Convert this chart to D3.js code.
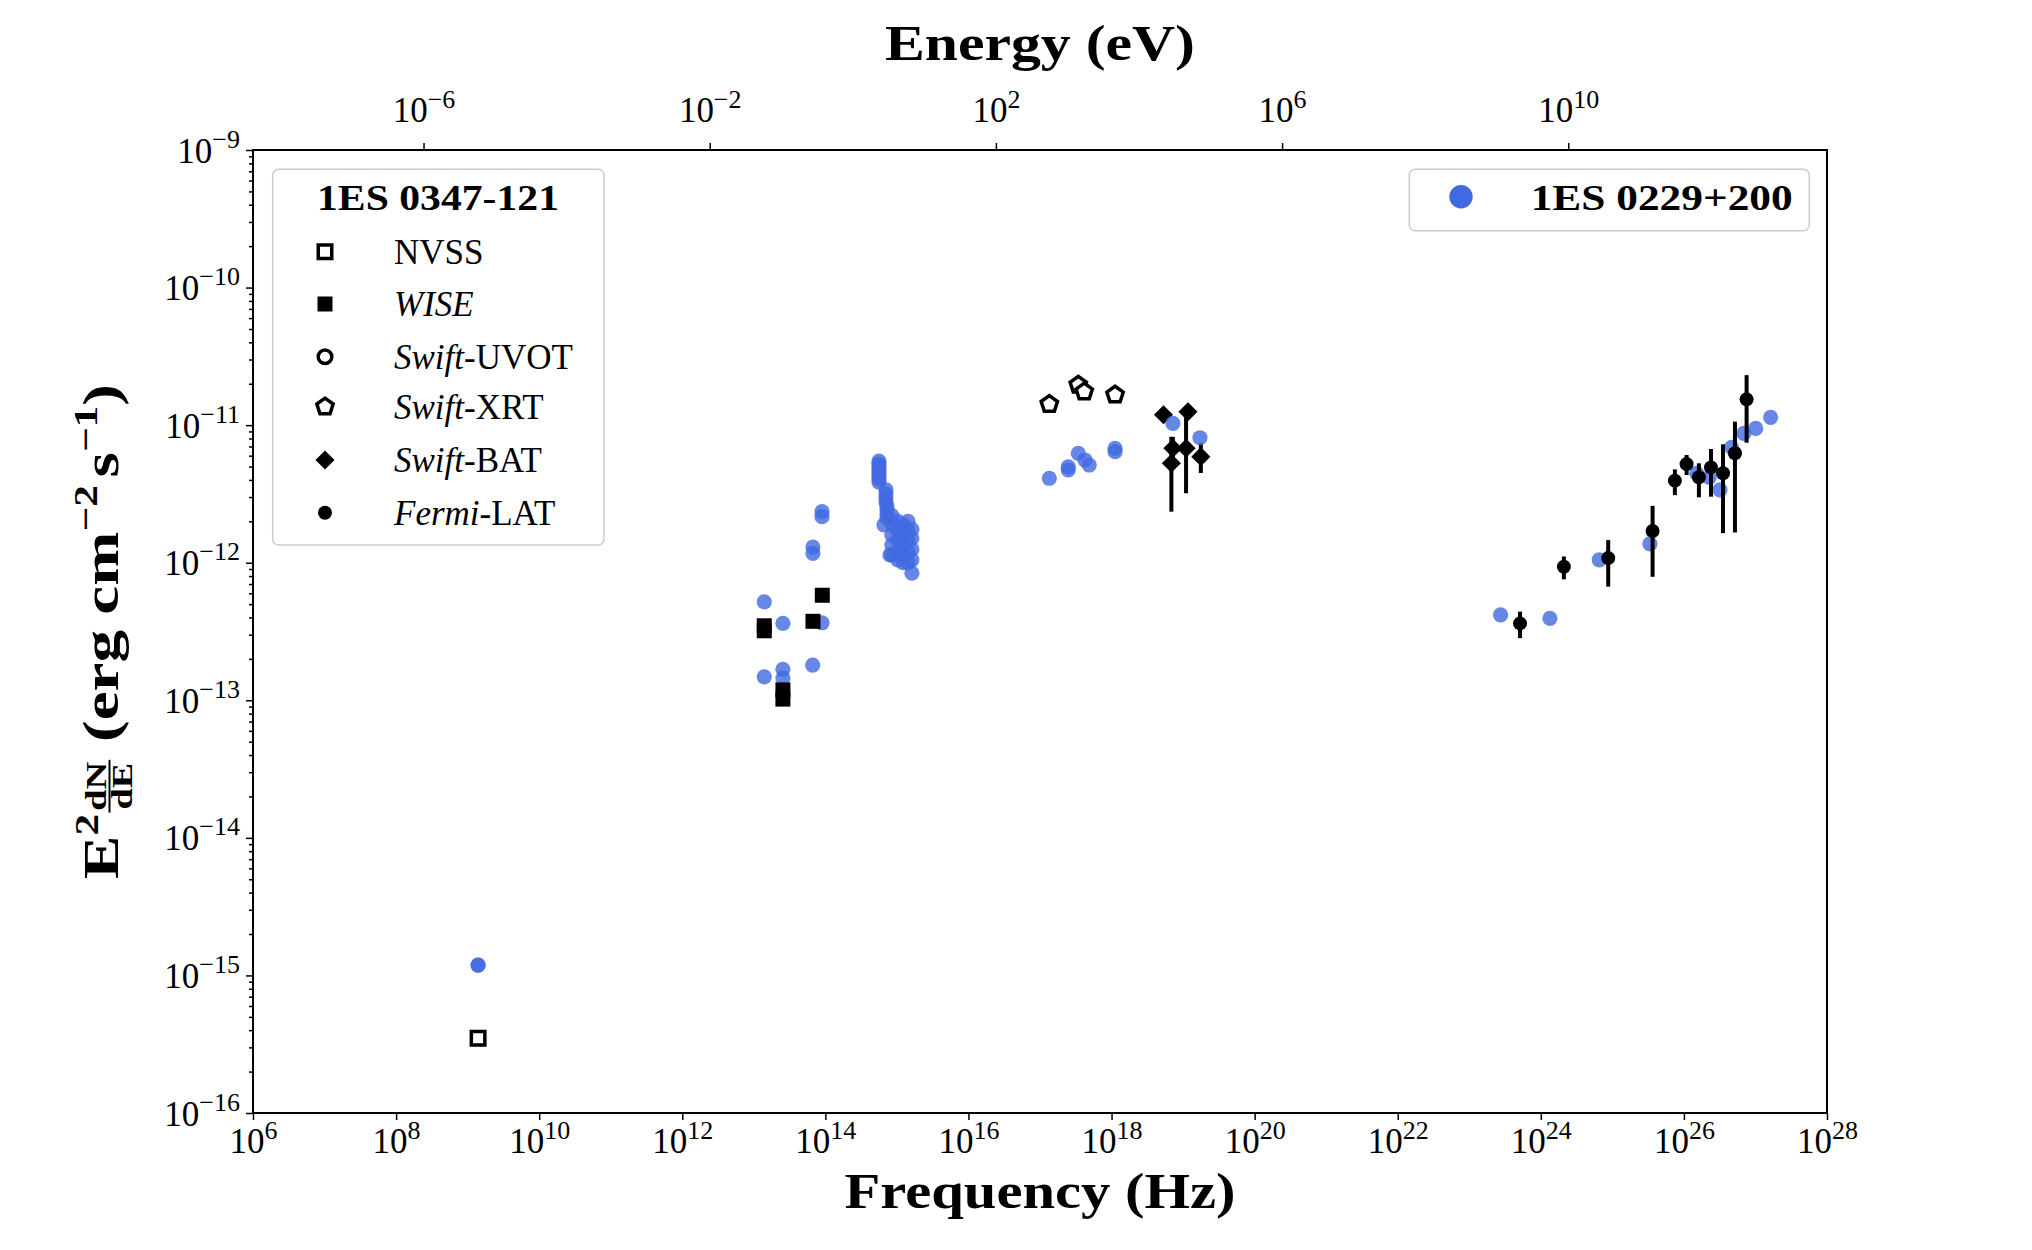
<!DOCTYPE html>
<html>
<head>
<meta charset="utf-8">
<title>SED 1ES 0347-121</title>
<script src="https://cdn.jsdelivr.net/npm/d3@7"></script>
<style>
  body { margin: 0; background: #fff; }
  svg { font-family: "Liberation Serif", "DejaVu Serif", serif; }
</style>
</head>
<body>
<script>

// Planck constant in eV s, for the energy axis on top
const hPlanck = 4.135667696e-15;

// 1ES 0347-121
const nvssNu = [1.4e9];
const nvssF  = [3.5e-16];

const wiseNu = [1.40e13, 1.40e13, 2.55e13, 2.55e13, 6.71e13, 9.06e13];
const wiseF  = [3.48e-13, 3.2e-13, 1.19e-13, 1.02e-13, 3.75e-13, 5.8e-13];

const xrtNu = [1.35e17, 3.43e17, 4.15e17, 1.12e18];
const xrtF  = [1.42e-11, 1.96e-11, 1.75e-11, 1.66e-11];

const batNu = [5.32e18, 1.17e19, 7.2e18, 1.10e19, 6.86e18, 1.77e19];
const batF  = [1.19e-11, 1.25e-11, 6.8e-12, 6.8e-12, 5.28e-12, 5.9e-12];
const batLo = [1.19e-11, 1.25e-11, 5.6e-12, 3.2e-12, 2.35e-12, 4.49e-12];
const batHi = [1.19e-11, 1.25e-11, 8.2e-12, 1.25e-11, 8.24e-12, 7.4e-12];

const latNu = [5.12e23, 2.10e24, 8.75e24, 3.65e25, 7.48e25, 1.09e26, 1.62e26, 2.39e26, 3.52e26, 5.17e26, 7.52e26];
const latF  = [3.62e-13, 9.35e-13, 1.08e-12, 1.70e-12, 3.95e-12, 5.21e-12, 4.18e-12, 4.93e-12, 4.47e-12, 6.24e-12, 1.54e-11];
const latLo = [2.83e-13, 7.57e-13, 6.7e-13, 7.9e-13, 3.1e-12, 4.34e-12, 2.99e-12, 3.02e-12, 1.64e-12, 1.66e-12, 7.45e-12];
const latHi = [4.41e-13, 1.11e-12, 1.46e-12, 2.59e-12, 4.77e-12, 6.07e-12, 5.28e-12, 6.71e-12, 7.26e-12, 1.06e-11, 2.31e-11];

// 1ES 0229+200
const refNu = [
  1.4e9, 1.4e9,
  1.40e13, 1.40e13, 2.55e13, 2.55e13, 2.55e13, 6.65e13, 8.98e13, 6.7e13, 6.7e13, 8.98e13, 8.98e13,
  5.61e14, 5.61e14, 5.61e14, 5.61e14, 5.61e14, 5.61e14, 5.61e14, 5.61e14,
  7.03e14, 7.03e14, 7.03e14, 7.03e14, 7.26e14, 7.26e14, 7.26e14, 7.26e14, 6.59e14, 8.0e14,
  8.5e14, 8.5e14, 8.5e14, 8.5e14, 8.5e14,
  1.03e15, 1.03e15, 1.03e15, 1.03e15, 1.03e15,
  1.22e15, 1.22e15, 1.22e15, 1.22e15, 1.22e15,
  1.43e15, 1.43e15, 1.43e15, 1.43e15, 1.43e15,
  1.62e15, 1.62e15, 1.62e15, 1.62e15, 1.62e15,
  1.35e17, 2.48e17, 2.48e17, 3.43e17, 4.25e17, 4.88e17, 1.12e18, 1.12e18,
  7.2e18, 1.72e19,
  2.74e23, 1.34e24, 6.56e24, 3.35e25, 1.51e26, 2.26e26, 3.19e26, 4.64e26, 6.89e26, 1.01e27, 1.63e27
];
const refF = [
  1.19e-15, 1.19e-15,
  5.2e-13, 1.48e-13, 3.63e-13, 1.68e-13, 1.45e-13, 1.8e-13, 3.66e-13, 1.3e-12, 1.17e-12, 2.35e-12, 2.16e-12,
  5.48e-12, 5.22e-12, 4.97e-12, 4.72e-12, 4.49e-12, 4.27e-12, 4.06e-12, 3.86e-12,
  3.38e-12, 3.16e-12, 2.95e-12, 2.76e-12, 2.58e-12, 2.42e-12, 2.26e-12, 2.11e-12, 1.88e-12, 1.14e-12,
  2.2e-12, 1.9e-12, 1.6e-12, 1.35e-12, 1.14e-12,
  2.0e-12, 1.7e-12, 1.45e-12, 1.2e-12, 1.05e-12,
  1.9e-12, 1.6e-12, 1.35e-12, 1.15e-12, 1.0e-12,
  2.0e-12, 1.7e-12, 1.45e-12, 1.2e-12, 1.0e-12,
  1.75e-12, 1.5e-12, 1.25e-12, 1.05e-12, 8.4e-13,
  4.11e-12, 4.72e-12, 4.97e-12, 6.24e-12, 5.58e-12, 5.13e-12, 6.41e-12, 6.79e-12,
  1.03e-11, 8.1e-12,
  4.17e-13, 3.94e-13, 1.05e-12, 1.37e-12, 4.47e-12, 4.18e-12, 3.38e-12, 6.9e-12, 8.7e-12, 9.47e-12, 1.14e-11
];

// ticks
const freqTicks = d3.range(6, 29, 2).map(e => Math.pow(10, e));
const fluxTicks = d3.range(-16, -8).map(e => Math.pow(10, e));
const energyTicks = [1e-6, 1e-2, 1e2, 1e6, 1e10];

const width = 2032, height = 1250;
const pL = 253, pR = 1827, pT = 150, pB = 1113;
const blue = "#4169E1";

const svg = d3.select("body").append("svg")
  .attr("width", width)
  .attr("height", height);

const x = d3.scaleLog().domain([1e6, 1e28]).range([pL, pR]);
const y = d3.scaleLog().domain([1e-16, 1e-9]).range([pB, pT]);
const xE = d3.scaleLog().domain([1e6 * hPlanck, 1e28 * hPlanck]).range([pL, pR]);

function expLabel(d) {
  const e = Math.round(Math.log10(d));
  return e < 0 ? "\u2212" + (-e) : String(e);
}

function supText(sel, raise) {
  sel.each(function(d) {
    const t = d3.select(this);
    t.text(null);
    t.append("tspan").text("10");
    t.append("tspan").attr("dy", -raise).attr("font-size", 26).text(expLabel(d));
  });
}

// bottom axis
const gx = svg.append("g")
  .attr("transform", `translate(0,${pB})`)
  .call(d3.axisBottom(x).tickValues(freqTicks).tickSize(7).tickSizeOuter(0).tickFormat(() => ""));
gx.selectAll(".tick text").attr("y", 40).attr("dy", null).call(supText, 14);

// top (energy) axis
const gt = svg.append("g")
  .attr("transform", `translate(0,${pT})`)
  .call(d3.axisTop(xE).tickValues(energyTicks).tickSize(7).tickSizeOuter(0).tickFormat(() => ""));
gt.selectAll(".tick text").attr("y", -28).attr("dy", null).call(supText, 14);

// left axis, major + minor
const minor = [];
fluxTicks.slice(0, -1).forEach(v => { for (let k = 2; k < 10; k++) minor.push(v * k); });
svg.append("g")
  .attr("transform", `translate(${pL},0)`)
  .call(d3.axisLeft(y).tickValues(minor).tickSize(4).tickSizeOuter(0).tickFormat(() => ""));
const gy = svg.append("g")
  .attr("transform", `translate(${pL},0)`)
  .call(d3.axisLeft(y).tickValues(fluxTicks).tickSize(7).tickSizeOuter(0).tickFormat(() => ""));
gy.selectAll(".tick text").attr("x", -13).attr("y", 12).attr("dy", null).call(supText, 15);

svg.selectAll(".domain").remove();
svg.selectAll(".tick line").attr("stroke", "#000").attr("stroke-width", 1.5);
svg.selectAll(".tick text")
  .attr("font-family", "Liberation Serif")
  .attr("font-size", 35)
  .attr("fill", "#000");

// frame
svg.append("rect")
  .attr("x", pL).attr("y", pT)
  .attr("width", pR - pL).attr("height", pB - pT)
  .attr("fill", "none").attr("stroke", "#000").attr("stroke-width", 2);

// marker shapes
const pentagon = r => d3.line().curve(d3.curveLinearClosed)(
  d3.range(5).map(i => {
    const a = -Math.PI / 2 + i * 2 * Math.PI / 5;
    return [r * Math.cos(a), r * Math.sin(a)];
  }));
const square = s => d3.symbol(d3.symbolSquare, s * s)();
const plot = svg.append("g");

function markers(nu, f, drawFn) {
  nu.forEach((v, i) => drawFn(plot.append("g").attr("transform", `translate(${x(v)},${y(f[i])})`)));
}
function errbars(nu, lo, hi) {
  plot.append("g").selectAll("line")
    .data(nu)
    .join("line")
    .attr("x1", d => x(d)).attr("x2", d => x(d))
    .attr("y1", (d, i) => y(lo[i])).attr("y2", (d, i) => y(hi[i]))
    .attr("stroke", "#000").attr("stroke-width", 4);
}

const drawNvss = g => g.append("path").attr("d", square(13.5)).attr("fill", "#fff").attr("stroke", "#000").attr("stroke-width", 3.5);
const drawWise = g => g.append("path").attr("d", square(15)).attr("fill", "#000");
const drawUvot = g => g.append("circle").attr("r", 6.8).attr("fill", "#fff").attr("stroke", "#000").attr("stroke-width", 3.5);
const drawXrt = g => g.append("path").attr("d", pentagon(8.6)).attr("fill", "#fff").attr("stroke", "#000").attr("stroke-width", 3.5).attr("stroke-linejoin", "miter");
const drawBat = g => g.append("path").attr("d", square(13.5)).attr("transform", "rotate(45)").attr("fill", "#000");
const drawLat = g => g.append("circle").attr("r", 7).attr("fill", "#000");

markers(nvssNu, nvssF, drawNvss);
markers(xrtNu, xrtF, drawXrt);
errbars(batNu, batLo, batHi);
markers(batNu, batF, drawBat);

plot.append("g").selectAll("circle")
  .data(refNu)
  .join("circle")
  .attr("cx", d => x(d))
  .attr("cy", (d, i) => y(refF[i]))
  .attr("r", 7.6)
  .attr("fill", blue)
  .attr("fill-opacity", 0.8);

markers(wiseNu, wiseF, drawWise);
errbars(latNu, latLo, latHi);
markers(latNu, latF, drawLat);

// axis titles
svg.append("text")
  .attr("x", (pL + pR) / 2).attr("y", 1208)
  .attr("text-anchor", "middle")
  .attr("font-size", 51).attr("font-weight", "bold")
  .attr("textLength", 391).attr("lengthAdjust", "spacingAndGlyphs")
  .text("Frequency (Hz)");

svg.append("text")
  .attr("x", (pL + pR) / 2).attr("y", 60)
  .attr("text-anchor", "middle")
  .attr("font-size", 51).attr("font-weight", "bold")
  .attr("textLength", 310).attr("lengthAdjust", "spacingAndGlyphs")
  .text("Energy (eV)");

// y title: E^2 dN/dE (erg cm^-2 s^-1)
const yl = svg.append("g").attr("font-weight", "bold");
let cur = 0;
function piece(txt, size, dy) {
  const t = yl.append("text").attr("x", cur).attr("y", dy).attr("font-size", size).text(txt);
  cur += t.node().getComputedTextLength();
}
piece("E", 51, 0);
piece("2", 34, -20);
cur += 1;
const num = yl.append("text").attr("y", -12).attr("font-size", 30).text("dN");
const den = yl.append("text").attr("y", 14).attr("font-size", 30).text("dE");
const fw = Math.max(num.node().getComputedTextLength(), den.node().getComputedTextLength()) + 3;
num.attr("x", cur + fw / 2).attr("text-anchor", "middle");
den.attr("x", cur + fw / 2).attr("text-anchor", "middle");
yl.append("line").attr("x1", cur).attr("x2", cur + fw).attr("y1", -8.5).attr("y2", -8.5)
  .attr("stroke", "#000").attr("stroke-width", 2);
cur += fw + 14;
piece("(erg", 51, 0);
cur += 12;
piece("cm", 51, 0);
piece("\u22122", 34, -21);
cur += 6;
piece("s", 51, 0);
piece("\u22121", 34, -21);
piece(")", 51, 0);
const ys = 495 / cur;
yl.attr("transform", `translate(118,${(pT + pB) / 2}) rotate(-90) scale(${ys},1) translate(${-cur / 2},0)`);

// legend: 1ES 0347-121
const lg = svg.append("g");
lg.append("rect")
  .attr("x", 272.7).attr("y", 169.3).attr("width", 331.3).attr("height", 375.7)
  .attr("rx", 6).attr("fill", "#fff").attr("fill-opacity", 0.8)
  .attr("stroke", "#cccccc").attr("stroke-width", 1.5);
lg.append("text")
  .attr("x", 438).attr("y", 210)
  .attr("text-anchor", "middle")
  .attr("font-size", 35).attr("font-weight", "bold")
  .attr("textLength", 242).attr("lengthAdjust", "spacingAndGlyphs")
  .text("1ES 0347-121");

const legendItems = [
  {it: "", rest: "NVSS", draw: drawNvss},
  {it: "WISE", rest: "", draw: drawWise},
  {it: "Swift", rest: "-UVOT", draw: drawUvot},
  {it: "Swift", rest: "-XRT", draw: drawXrt},
  {it: "Swift", rest: "-BAT", draw: drawBat},
  {it: "Fermi", rest: "-LAT", draw: drawLat}
];
const rowY = [251.7, 304, 356.7, 406.7, 460, 512.7];
legendItems.forEach((d, i) => {
  d.draw(lg.append("g").attr("transform", `translate(325,${rowY[i]})`));
  const t = lg.append("text").attr("x", 394).attr("y", rowY[i] + 12).attr("font-size", 35);
  if (d.it) t.append("tspan").attr("font-style", "italic").text(d.it);
  if (d.rest) t.append("tspan").text(d.rest);
});

// legend: 1ES 0229+200
const lg2 = svg.append("g");
lg2.append("rect")
  .attr("x", 1409.3).attr("y", 169.3).attr("width", 400).attr("height", 61.4)
  .attr("rx", 6).attr("fill", "#fff").attr("fill-opacity", 0.8)
  .attr("stroke", "#cccccc").attr("stroke-width", 1.5);
lg2.append("circle").attr("cx", 1461).attr("cy", 196.7).attr("r", 11.7).attr("fill", blue);
lg2.append("text")
  .attr("x", 1530.7).attr("y", 210)
  .attr("font-size", 35).attr("font-weight", "bold")
  .attr("textLength", 262).attr("lengthAdjust", "spacingAndGlyphs")
  .text("1ES 0229+200");

</script>
</body>
</html>
